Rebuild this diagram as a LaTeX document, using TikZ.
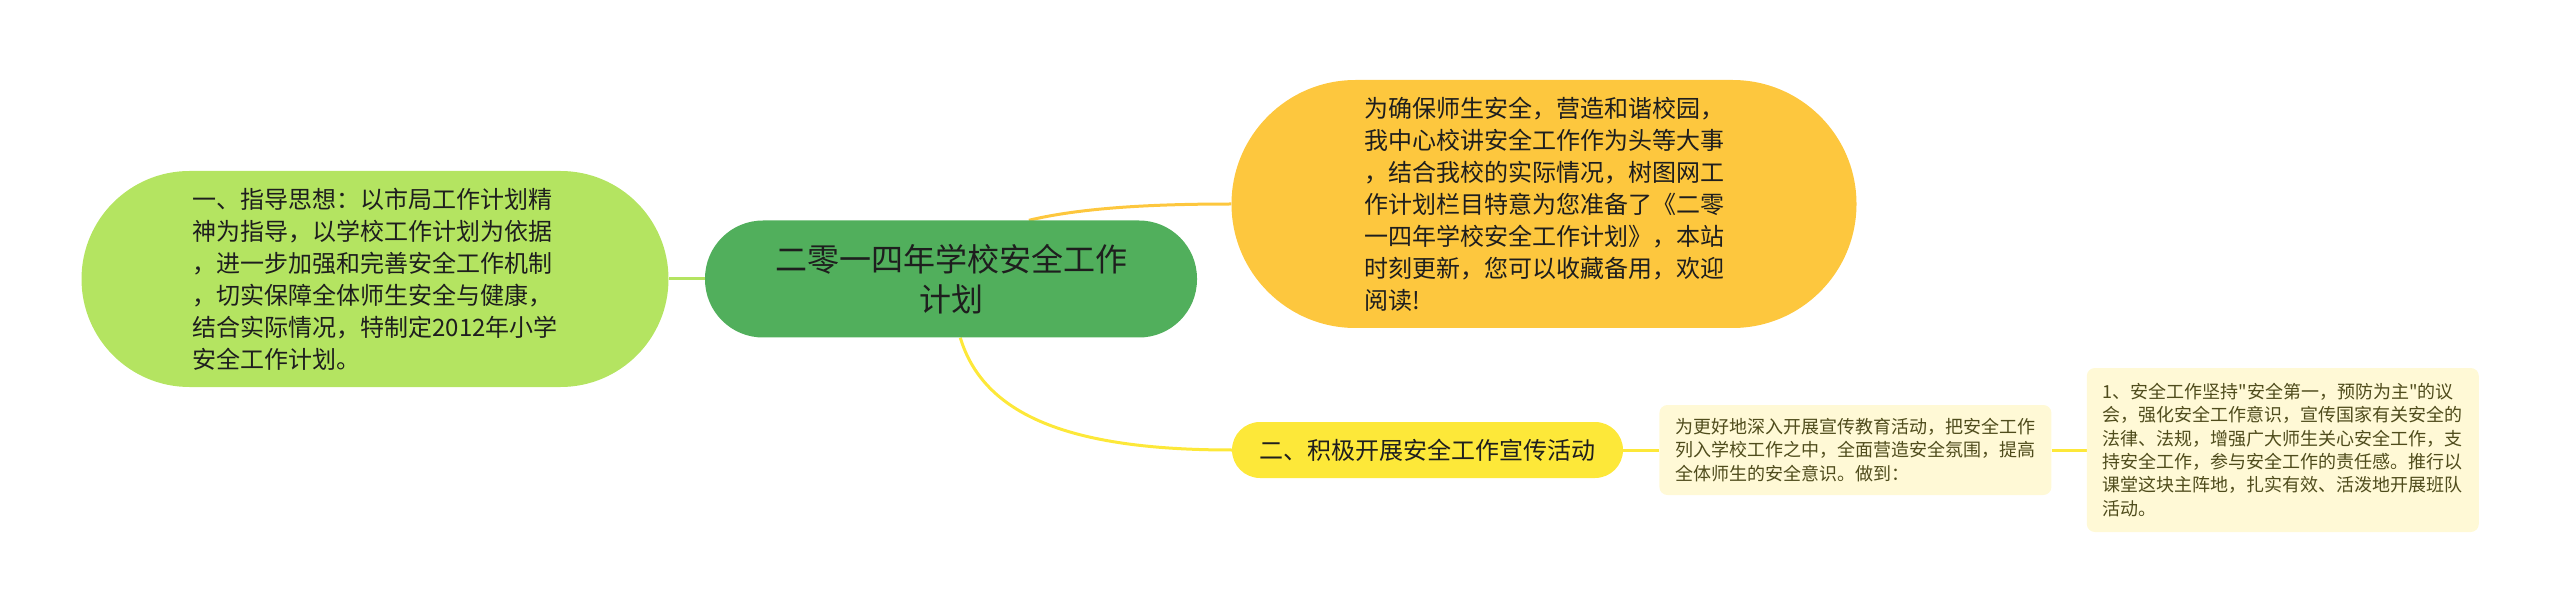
\documentclass[tikz,border=0pt]{standalone}
\usepackage{fontspec}
\setmainfont{Noto Sans CJK SC}[Ligatures=TeXOff]
\usepackage{xcolor}
\definecolor{rootgreen}{HTML}{51AF5C}
\definecolor{leafgreen}{HTML}{B4E461}
\definecolor{topicorange}{HTML}{FDC73E}
\definecolor{topicyellow}{HTML}{FDE839}
\definecolor{notecream}{HTML}{FFF9D6}
\definecolor{darktext}{HTML}{1E1E1E}
\definecolor{olivetext}{HTML}{4F4C1C}
\usepackage{tikz}
\usetikzlibrary{positioning,backgrounds}

\begin{document}
\begin{tikzpicture}[
        x=1pt, y=1pt,
        root/.style={rectangle, fill=rootgreen, minimum width=492pt, minimum height=117pt, rounded corners=58pt, inner sep=0pt, align=center, text=darktext, font=\fontsize{32}{40}\selectfont},
        pill/.style={rectangle, inner sep=0pt, align=left, text=darktext, font=\fontsize{24}{32}\selectfont},
        note/.style={rectangle, fill=notecream, rounded corners=8pt, minimum width=392pt, inner sep=0pt, align=left, text=olivetext, font=\fontsize{18}{23.3}\selectfont},
        link/.style={line width=3pt}
    ]
        \useasboundingbox (0,0) rectangle (2560,-612);

        \node[root] (root) at (951,-279) {二零一四年学校安全工作\\计划};
        \node[pill, fill=leafgreen, minimum width=587pt, minimum height=216pt, rounded corners=108pt] (guide) at (375,-279)
            {一、指导思想：以市局工作计划精\\神为指导，以学校工作计划为依据\\，进一步加强和完善安全工作机制\\，切实保障全体师生安全与健康，\\结合实际情况，特制定2012年小学\\安全工作计划。};
        \node[pill, fill=topicorange, minimum width=625pt, minimum height=248pt, rounded corners=124pt] (intro) at (1544,-204)
            {为确保师生安全，营造和谐校园，\\我中心校讲安全工作作为头等大事\\，结合我校的实际情况，树图网工\\作计划栏目特意为您准备了《二零\\一四年学校安全工作计划》，本站\\时刻更新，您可以收藏备用，欢迎\\阅读!};
        \node[pill, fill=topicyellow, minimum width=391pt, minimum height=56pt, rounded corners=28pt, align=center] (promo) at (1427.5,-450)
            {二、积极开展安全工作宣传活动};

        \node[note, minimum height=90pt, right=36pt of promo] (promonote)
            {为更好地深入开展宣传教育活动，把安全工作\\列入学校工作之中，全面营造安全氛围，提高\\全体师生的安全意识。做到：};
        \node[note, minimum height=164pt, right=35pt of promonote] (firstitem)
            {1、安全工作坚持"安全第一，预防为主"的议\\会，强化安全工作意识，宣传国家有关安全的\\法律、法规，增强广大师生关心安全工作，支\\持安全工作，参与安全工作的责任感。推行以\\课堂这块主阵地，扎实有效、活泼地开展班队\\活动。};

        \begin{scope}[on background layer]
            \draw[link, leafgreen] (root.west) -- (guide.east);
            \draw[link, topicorange] (root.37) .. controls (1080,-208) and (1150,-204) .. (intro.west);
            \draw[link, topicyellow] (root.-81) .. controls (985,-420) and (1080,-450) .. (promo.west);
            \draw[link, topicyellow] (promo.east) -- (promonote.west);
            \draw[link, topicyellow] (promonote.east) -- (firstitem.west);
        \end{scope}
    \end{tikzpicture}
\end{document}
